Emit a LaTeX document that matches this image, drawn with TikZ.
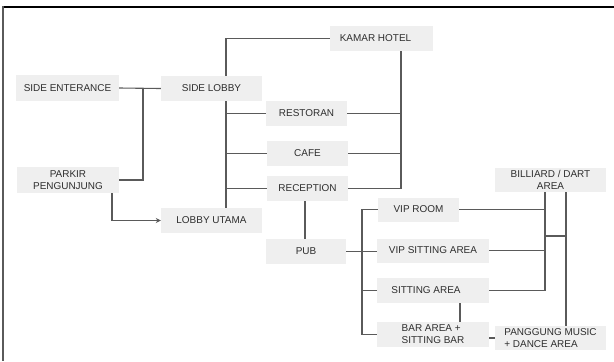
\documentclass[tikz,border=0pt]{standalone}
\usepackage{fontspec}
\setmainfont{Liberation Sans}
\usetikzlibrary{arrows.meta,calc}
\definecolor{boxfill}{HTML}{EFEFEF}
\definecolor{linecol}{HTML}{5A5A5A}
\definecolor{txtcol}{HTML}{2E2E2E}
\tikzset{
  roombox/.style={rectangle, fill=boxfill, draw=none, inner sep=0pt, text=txtcol,
    font=\fontsize{10}{12}\selectfont, align=center},
  conn/.style={draw=linecol, line width=1.1bp},
}
\begin{document}
\begin{tikzpicture}[x=1bp,y=-1bp]
\useasboundingbox (0,0) rectangle (614,361);
% frame
\draw[line width=2bp, black] (3,6.5) -- (614,6.5);
\draw[line width=2.5bp, linecol] (3,6) -- (3,361);

% nodes
\node[roombox, minimum width=103bp, minimum height=26bp] (se) at (67.5,88) {SIDE ENTERANCE};
\node[roombox, minimum width=101bp, minimum height=25bp] (sl) at (211.5,88.5) {SIDE LOBBY};
\node[roombox, minimum width=103bp, minimum height=25bp] (kh) at (381.5,38.5) {KAMAR HOTEL\hspace{12bp}};
\node[roombox, minimum width=81bp, minimum height=25bp] (rs) at (306.5,113.5) {RESTORAN};
\node[roombox, minimum width=81bp, minimum height=25bp] (cf) at (307.5,153.5) {CAFE};
\node[roombox, minimum width=81bp, minimum height=25bp] (rc) at (307.5,188.5) {RECEPTION};
\node[roombox, minimum width=102bp, minimum height=26bp] (pk) at (68,180) {PARKIR\\PENGUNJUNG};
\node[roombox, minimum width=101bp, minimum height=25bp] (lu) at (211.5,220.5) {LOBBY UTAMA};
\node[roombox, minimum width=80bp, minimum height=25bp] (pub) at (306,251.5) {PUB};
\node[roombox, minimum width=81bp, minimum height=24bp] (vr) at (418.5,209.5) {VIP ROOM};
\node[roombox, minimum width=112bp, minimum height=24bp] (vs) at (433,250.5) {VIP SITTING AREA};
\node[roombox, minimum width=112bp, minimum height=25bp] (sa) at (433,290.5) {SITTING AREA\hspace{14bp}};
\node[roombox, minimum width=112bp, minimum height=25bp, align=left] (ba) at (433,334.5) {BAR AREA +\hspace{34bp}\\SITTING BAR};
\node[roombox, minimum width=111bp, minimum height=24bp, align=left] (pg) at (550.5,338) {PANGGUNG MUSIC\\+ DANCE AREA};
\node[roombox, minimum width=111bp, minimum height=24bp] (bd) at (550.5,180) {BILLIARD / DART\\AREA\\[-12bp]\hspace{110bp}};

% helper coordinates
\coordinate (jx) at (143,0);
\coordinate (ax) at (112,0);
\coordinate (sx) at (226,0);
\coordinate (kx) at (401,0);
\coordinate (rx) at (305,0);
\coordinate (px) at (362,0);
\coordinate (bx) at (545,0);
\coordinate (cx) at (566,0);
\coordinate (tx) at (460,0);
\coordinate (hy) at (0,236);

% connectors
\draw[conn] (se.east) -- (sl.west);
\draw[conn] (pk.east) -| (se.east -| jx);
\draw[conn, -{Stealth[length=5bp,width=5bp]}] (pk.south -| ax) |- (lu.west);

\draw[conn] (kh.west) -| (sl.north -| sx);
\draw[conn] (sl.south -| sx) -- (lu.north -| sx);
\draw[conn] (rs.west) -- (rs.west -| sx);
\draw[conn] (cf.west) -- (cf.west -| sx);
\draw[conn] (rc.west) -- (rc.west -| sx);

\draw[conn] (kh.south -| kx) -- (rc.east -| kx) -- (rc.east);
\draw[conn] (rs.east) -- (rs.east -| kx);
\draw[conn] (cf.east) -- (cf.east -| kx);

\draw[conn] (rc.south -| rx) -- (pub.north -| rx);

\draw[conn] (pub.east) -- (pub.east -| vs.west);
\draw[conn] (vr.west) -| (ba.west -| px) -- (ba.west);
\draw[conn] (sa.west) -- (sa.west -| px);

\draw[conn] (bd.south -| bx) -- (sa.east -| bx) -- (sa.east);
\draw[conn] (vr.east) -- (vr.east -| bx);
\draw[conn] (vs.east) -- (vs.east -| bx);
\draw[conn] (bd.south -| cx) -- (pg.north -| cx);
\draw[conn] (hy -| bx) -- (hy -| cx);

\draw[conn] (sa.south -| tx) -- (ba.north -| tx);
\draw[conn] (pg.west -| ba.east) -- (pg.west);
\end{tikzpicture}
\end{document}
